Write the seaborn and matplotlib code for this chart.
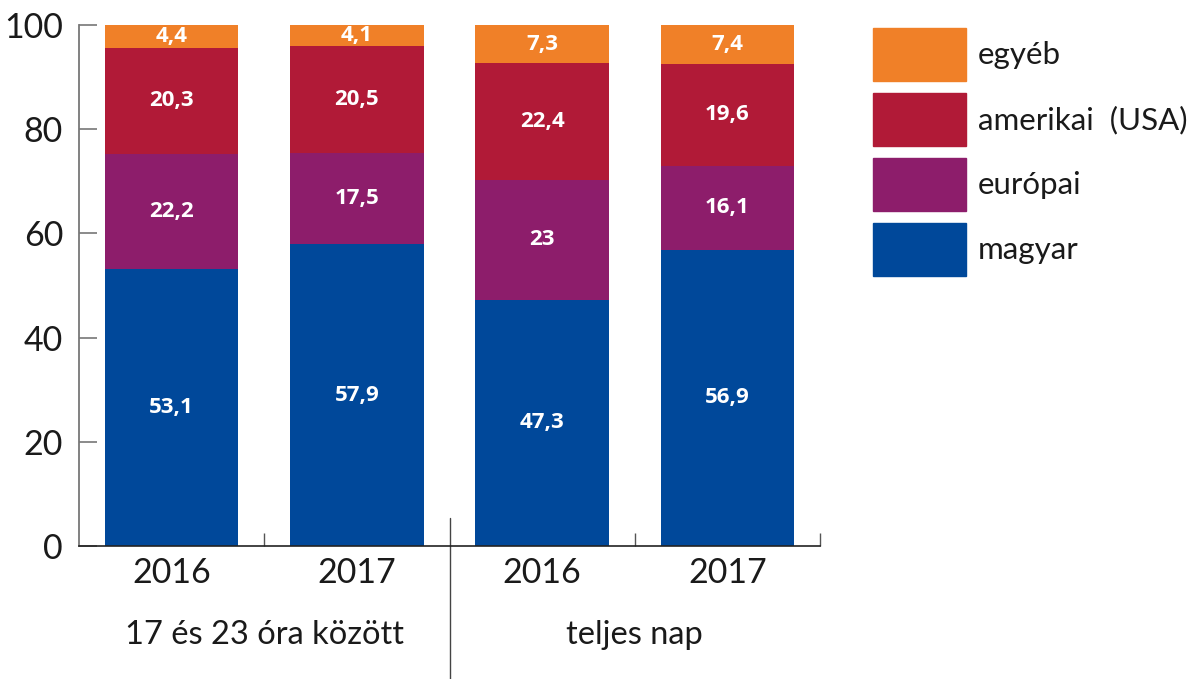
import matplotlib
matplotlib.use("Agg")
import matplotlib.pyplot as plt
import seaborn as sns
import numpy as np
import pandas as pd

# Viewing share by origin of programmes (percent)
years = ["2016", "2017", "2016", "2017"]
groups = ["17 és 23 óra között", "teljes nap"]
series_names = ["magyar", "európai", "amerikai  (USA)", "egyéb"]
magyar = [53.1, 57.9, 47.3, 56.9]
europai = [22.2, 17.5, 23.0, 16.1]
amerikai = [20.3, 20.5, 22.4, 19.6]
egyeb = [4.4, 4.1, 7.3, 7.4]
labels_magyar = ["53,1", "57,9", "47,3", "56,9"]
labels_europai = ["22,2", "17,5", "23", "16,1"]
labels_amerikai = ["20,3", "20,5", "22,4", "19,6"]
labels_egyeb = ["4,4", "4,1", "7,3", "7,4"]
yticks = [0, 20, 40, 60, 80, 100]

colors = ["#00489A", "#8D1D6B", "#B11A37", "#F08028"]

sns.set_theme(style="white")
plt.rcParams["font.family"] = ["Lato", "DejaVu Sans"]

fig = plt.figure(figsize=(11.99, 6.79), dpi=100)
ax = fig.add_axes([79 / 1199, 1 - 546 / 679, (820 - 79) / 1199, (546 - 25) / 679])

layers = [magyar, europai, amerikai, egyeb]
layer_labels = [labels_magyar, labels_europai, labels_amerikai, labels_egyeb]
bottoms = np.zeros(4)
pos = np.arange(4)
for vals, lbls, col in zip(layers, layer_labels, colors):
    vals = np.array(vals)
    df = pd.DataFrame({"pos": pos, "val": vals})
    sns.barplot(data=df, x="pos", y="val", color=col, width=0.72,
                bottom=bottoms, saturation=1, ax=ax, linewidth=0,
                native_scale=True)
    for p, v, b, t in zip(pos, vals, bottoms, lbls):
        ax.text(p, b + v / 2, t, ha="center", va="center", color="white",
                fontsize=16, fontweight="bold", family=["Open Sans", "DejaVu Sans"])
    bottoms = bottoms + vals

ax.set_xlim(-0.5, 3.5)
ax.set_ylim(0, 100)
ax.set_xlabel("")
ax.set_ylabel("")
ax.set_yticks(yticks)
ax.set_yticklabels([str(v) for v in yticks])
ax.set_xticks(pos)
ax.set_xticklabels(years)
ax.set_xticks([0.5, 2.5, 3.5], minor=True)

ax.tick_params(axis="y", direction="in", length=13, width=1.2, color="#777777",
               pad=11.5, labelsize=24.5, labelcolor="#1a1a1a", left=True)
ax.tick_params(axis="x", which="major", length=0, pad=8, labelsize=24.5,
               labelcolor="#1a1a1a")
ax.tick_params(axis="x", which="minor", direction="in", length=9.4, width=1,
               color="#555555", bottom=True)

for s in ["top", "right"]:
    ax.spines[s].set_visible(False)
ax.spines["left"].set_color("#777777")
ax.spines["left"].set_linewidth(1.3)
ax.spines["bottom"].set_color("#222222")
ax.spines["bottom"].set_linewidth(1.2)

# group separator extending below the axis
trans = ax.get_xaxis_transform()
ax.plot([1.5, 1.5], [0.054, -0.27], transform=trans, color="#444444",
        linewidth=1, clip_on=False)

# group captions
for x, g in zip([0.5, 2.5], groups):
    ax.text(x, -0.17, g, transform=trans, ha="center", va="center",
            fontsize=23.5, color="#1a1a1a")

# legend, top entry first
handles = [plt.Rectangle((0, 0), 1, 1, color=c) for c in colors[::-1]]
fig.legend(handles, series_names[::-1], loc="upper left",
           bbox_to_anchor=(873 / 1199, 1 - 28 / 679), frameon=False,
           fontsize=22.5, handlelength=2.98, handleheight=2.22,
           labelspacing=0.39, handletextpad=0.38, borderpad=0,
           borderaxespad=0, labelcolor="#1a1a1a")

fig.savefig("out.png", dpi=100)
